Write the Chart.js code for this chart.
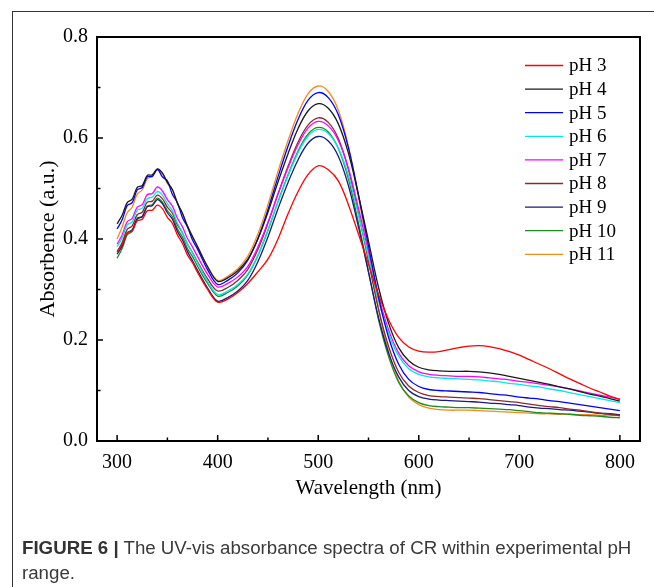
<!DOCTYPE html>
<html>
<head>
<meta charset="utf-8">
<script src="https://cdn.jsdelivr.net/npm/chart.js@4/dist/chart.umd.min.js"></script>
<style>
  html, body { margin: 0; padding: 0; background: #fff; }
  #wrap { position: relative; width: 654px; height: 587px; overflow: hidden; }
  #c { position: absolute; left: 0; top: 0; }
  #frame { position: absolute; left: 12px; top: 11px; width: 660px; height: 600px;
           border-left: 1.5px solid #333; border-top: 1.5px solid #333; }
  #caption { position: absolute; left: 22px; top: 535px; width: 630px;
             font-family: "Liberation Sans", Arial, sans-serif; font-size: 18.7px;
             line-height: 25px; color: #3a3a3a; white-space: nowrap; }
  #caption b { color: #333; }
</style>
</head>
<body>
<div id="wrap">
  <div id="frame"></div>
  <canvas id="c" width="654" height="587"></canvas>
  <div id="caption"><b>FIGURE 6 |</b> The UV-vis absorbance spectra of CR within experimental pH<br>range.</div>
</div>
<script>
const wavelengths = [300,305,310,315,320,325,330,335,340,345,350,355,360,365,370,375,380,390,400,
  410,420,430,440,450,460,470,480,490,500,
  510,520,530,540,550,560,570,580,590,600,
  610,620,630,640,650,660,670,680,690,700,
  710,720,730,740,750,760,770,780,790,800];

const seriesLabels = ["pH 3","pH 4","pH 5","pH 6","pH 7","pH 8","pH 9","pH 10","pH 11"];

const pH3 = [.375,.389,.412,.416,.436,.439,.456,.457,.467,.460,.443,.431,.408,.391,.368,.353,.334,.300,.275,
  .281,.294,.312,.335,.360,.400,.450,.494,.528,.545,
  .537,.515,.468,.410,.350,.290,.240,.205,.186,.178,
  .176,.177,.181,.185,.188,.189,.187,.183,.177,.170,
  .161,.152,.143,.133,.123,.114,.105,.097,.089,.082];
const pH4 = [.430,.447,.472,.479,.502,.506,.526,.527,.539,.531,.512,.498,.471,.451,.425,.405,.385,.345,.316,
  .323,.337,.360,.400,.453,.513,.569,.619,.654,.668,
  .659,.628,.570,.487,.396,.304,.233,.185,.159,.146,
  .141,.139,.138,.138,.138,.137,.135,.132,.128,.124,
  .120,.116,.112,.107,.103,.098,.093,.089,.084,.079];
const pH5 = [.420,.438,.466,.472,.497,.502,.523,.524,.538,.523,.515,.488,.472,.442,.424,.398,.380,.339,.310,
  .318,.333,.358,.401,.458,.523,.584,.637,.675,.690,
  .680,.646,.581,.488,.386,.284,.205,.152,.122,.108,
  .102,.100,.099,.098,.097,.096,.094,.092,.090,.087,
  .085,.083,.080,.078,.075,.072,.069,.066,.063,.060];
const pH6 = [.385,.402,.428,.434,.457,.461,.480,.483,.494,.487,.470,.456,.431,.413,.390,.372,.353,.316,.290,
  .297,.310,.331,.368,.418,.473,.525,.571,.604,.617,
  .609,.580,.526,.448,.364,.278,.213,.168,.143,.132,
  .127,.125,.124,.123,.122,.121,.119,.117,.114,.112,
  .109,.107,.103,.100,.096,.092,.088,.084,.080,.076];
const pH7 = [.390,.408,.434,.441,.463,.468,.488,.490,.503,.495,.478,.465,.441,.424,.401,.384,.365,.330,.305,
  .312,.325,.346,.384,.433,.489,.541,.587,.620,.633,
  .624,.595,.540,.461,.374,.287,.220,.174,.149,.137,
  .132,.130,.129,.128,.128,.127,.125,.123,.121,.118,
  .116,.113,.110,.107,.103,.099,.095,.091,.087,.083];
const pH8 = [.375,.393,.419,.426,.448,.453,.473,.475,.487,.480,.463,.451,.428,.412,.390,.373,.355,.321,.297,
  .304,.318,.340,.379,.431,.489,.544,.592,.626,.640,
  .631,.599,.538,.451,.356,.260,.187,.136,.109,.096,
  .090,.088,.087,.086,.085,.084,.082,.080,.078,.076,
  .073,.070,.068,.066,.063,.061,.058,.055,.053,.050];
const pH9 = [.370,.386,.412,.418,.441,.444,.464,.466,.478,.470,.452,.439,.415,.398,.375,.357,.338,.303,.277,
  .284,.297,.318,.355,.404,.460,.512,.557,.590,.603,
  .594,.564,.506,.424,.334,.244,.174,.127,.100,.088,
  .083,.081,.080,.079,.078,.077,.075,.074,.072,.070,
  .067,.065,.064,.062,.061,.059,.057,.055,.054,.052];
const pH10 = [.362,.381,.408,.415,.439,.445,.465,.468,.481,.473,.456,.444,.420,.404,.381,.365,.346,.312,.287,
  .294,.307,.329,.367,.417,.474,.527,.574,.608,.621,
  .612,.579,.519,.432,.336,.240,.167,.116,.089,.076,
  .070,.068,.067,.066,.066,.065,.064,.063,.062,.060,
  .058,.056,.055,.054,.053,.051,.050,.049,.047,.046];
const pH11 = [.400,.424,.452,.463,.489,.497,.519,.524,.537,.529,.510,.497,.470,.450,.426,.404,.385,.346,.318,
  .326,.341,.366,.410,.468,.534,.595,.649,.688,.703,
  .692,.655,.584,.484,.374,.263,.177,.119,.087,.072,
  .065,.062,.061,.061,.061,.060,.059,.058,.057,.056,
  .055,.054,.054,.053,.053,.052,.052,.051,.051,.050];

const xTicks = [300,400,500,600,700,800];
const xMinorTicks = [350,450,550,650,750];
const yTicks = [0.0,0.2,0.4,0.6,0.8];
const yMinorTicks = [0.1,0.3,0.5,0.7];

const seriesValues = [pH3,pH4,pH5,pH6,pH7,pH8,pH9,pH10,pH11];
const seriesColors = ['#FF0000','#1a1a1a','#0000FF','#00E8E8','#FF00FF','#8B2A2A','#1A1A80','#1E8C1E','#F08C1E'];

const datasets = seriesValues.map((vals, i) => ({
  label: seriesLabels[i],
  data: vals.map((v, j) => ({x: wavelengths[j], y: v})),
  borderColor: seriesColors[i],
  backgroundColor: seriesColors[i],
  borderWidth: 1.3,
  pointRadius: 0,
  tension: 0.35,
  fill: false
}));

const serif = '"Liberation Serif", "Times New Roman", serif';

const decorPlugin = {
  id: 'decor',
  afterDraw(chart) {
    const ctx = chart.ctx;
    const a = chart.chartArea;
    const xs = chart.scales.x, ys = chart.scales.y;
    ctx.save();
    ctx.strokeStyle = '#000';
    ctx.lineWidth = 1.5;
    ctx.beginPath();
    xTicks.forEach(v => { const p = xs.getPixelForValue(v); ctx.moveTo(p, a.bottom); ctx.lineTo(p, a.bottom - 6); });
    xMinorTicks.forEach(v => { const p = xs.getPixelForValue(v); ctx.moveTo(p, a.bottom); ctx.lineTo(p, a.bottom - 3.5); });
    yTicks.forEach(v => { const p = ys.getPixelForValue(v); ctx.moveTo(a.left, p); ctx.lineTo(a.left + 6, p); });
    yMinorTicks.forEach(v => { const p = ys.getPixelForValue(v); ctx.moveTo(a.left, p); ctx.lineTo(a.left + 3.5, p); });
    ctx.stroke();
    ctx.lineWidth = 2;
    ctx.strokeRect(a.left, a.top, a.right - a.left, a.bottom - a.top);
    ctx.font = '19px ' + serif;
    ctx.textBaseline = 'middle';
    ctx.textAlign = 'left';
    chart.data.datasets.forEach((ds, i) => {
      const y = 65.5 + i * 23.6;
      ctx.strokeStyle = ds.borderColor;
      ctx.lineWidth = 1.3;
      ctx.beginPath();
      ctx.moveTo(525, y);
      ctx.lineTo(563, y);
      ctx.stroke();
      ctx.fillStyle = '#000';
      ctx.fillText(ds.label, 569, y + 1);
    });
    ctx.restore();
  }
};

new Chart(document.getElementById('c'), {
  type: 'line',
  data: { datasets },
  options: {
    responsive: false,
    animation: false,
    devicePixelRatio: 1,
    layout: { padding: { left: 0, top: 37, right: 14, bottom: 86 } },
    plugins: { legend: { display: false }, tooltip: { enabled: false } },
    scales: {
      x: {
        type: 'linear',
        min: 280, max: 820,
        afterBuildTicks: s => { s.ticks = xTicks.map(v => ({value: v})); },
        afterFit: s => { s.height = 60; },
        grid: { display: false, drawTicks: false, tickLength: 0 },
        border: { display: false },
        ticks: { color: '#000', font: { family: serif, size: 20 }, padding: 10, maxRotation: 0, autoSkip: false },
        title: { display: true, text: 'Wavelength (nm)', color: '#000',
                 font: { family: serif, size: 21 }, padding: { top: 0, bottom: 0 } }
      },
      y: {
        type: 'linear',
        min: 0, max: 0.8,
        afterBuildTicks: s => { s.ticks = yTicks.map(v => ({value: v})); },
        afterFit: s => { s.width = 97; },
        grid: { display: false, drawTicks: false, tickLength: 0 },
        border: { display: false },
        ticks: { color: '#000', font: { family: serif, size: 20 }, padding: 9,
                 callback: v => Number(v).toFixed(1) },
        title: { display: true, text: 'Absorbence (a.u.)', color: '#000',
                 font: { family: serif, size: 22 }, padding: { top: 35, bottom: 0 } }
      }
    }
  },
  plugins: [decorPlugin]
});
</script>
</body>
</html>
